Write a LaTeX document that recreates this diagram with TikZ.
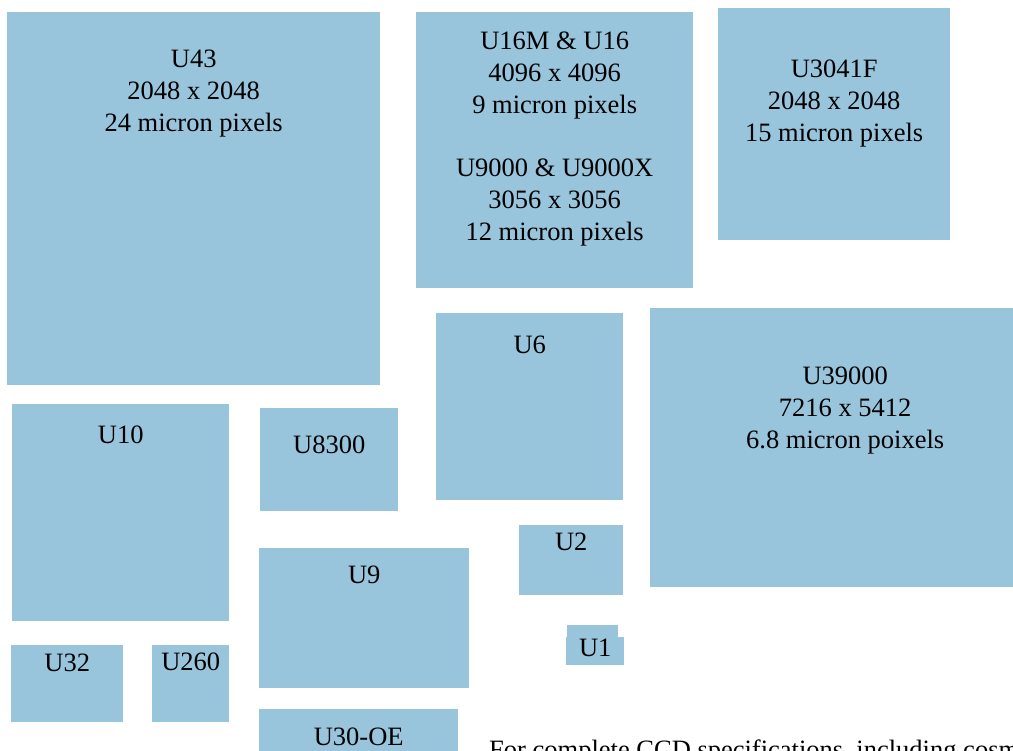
\documentclass[tikz,border=0pt]{standalone}
\usepackage{fontspec}
\setmainfont{Liberation Serif}
\usetikzlibrary{positioning}
\definecolor{chipblue}{RGB}{152,196,220}

\begin{document}
\begin{tikzpicture}[x=1pt, y=-1pt,
  chip/.style={fill=chipblue, inner sep=0pt, anchor=north west},
  lbl/.style={font=\fontsize{26.5}{32}\selectfont, align=center, inner sep=0pt}]
\useasboundingbox (0,0) rectangle (1013,751);
\clip (0,0) rectangle (1013,751);
% sensor outlines, to scale
\node[chip, minimum width=373pt, minimum height=373pt] (u43) at (7,12) {};
\node[chip, minimum width=277pt, minimum height=276pt] (u16) at (416,12) {};
\node[chip, minimum width=232pt, minimum height=232pt] (u3041) at (718,8) {};
\node[chip, minimum width=187pt, minimum height=187pt] (u6) at (436,313) {};
\node[chip, minimum width=390pt, minimum height=279pt] (u39000) at (650,308) {};
\node[chip, minimum width=217pt, minimum height=217pt] (u10) at (12,404) {};
\node[chip, minimum width=138pt, minimum height=103pt] (u8300) at (260,408) {};
\node[chip, minimum width=210pt, minimum height=140pt] (u9) at (259,548) {};
\node[chip, minimum width=104pt, minimum height=70pt] (u2) at (519,525) {};
\node[chip, minimum width=51pt, minimum height=12pt] (u1top) at (567,625) {};
\node[chip, minimum width=58pt, minimum height=28pt] (u1) at (566,637) {};
\node[chip, minimum width=112pt, minimum height=77pt] (u32) at (11,645) {};
\node[chip, minimum width=77pt, minimum height=77pt] (u260) at (152,645) {};
\node[chip, minimum width=199pt, minimum height=70pt] (u30) at (259,709) {};
% names
\node[lbl, below=38pt of u43.north] (u43l) {U43\\2048 x 2048\\24 micron pixels};
\node[lbl, below=20pt of u16.north] (u16l) {U16M \& U16\\4096 x 4096\\9 micron pixels\\[31pt]U9000 \& U9000X\\3056 x 3056\\12 micron pixels};
\node[lbl, below=52pt of u3041.north] (u3041l) {U3041F\\2048 x 2048\\15 micron pixels};
\node[lbl, below=23pt of u6.north] (u6l) {U6};
\node[lbl, below=59pt of u39000.north] (u39000l) {U39000\\7216 x 5412\\6.8 micron poixels};
\node[lbl, below=22pt of u10.north] (u10l) {U10};
\node[lbl, below=28pt of u8300.north] (u8300l) {U8300};
\node[lbl, below=18pt of u9.north] (u9l) {U9};
\node[lbl, below=8pt of u2.north] (u2l) {U2};
\node[lbl, below=2pt of u1.north] (u1l) {U1};
\node[lbl, below=9pt of u32.north] (u32l) {U32};
\node[lbl, below=8pt of u260.north] (u260l) {U260};
\node[lbl, below=19pt of u30.north] (u30l) {U30-OE};
\node[lbl, anchor=base west] (note) at (489,758) {For complete CCD specifications, including cosm};
\end{tikzpicture}
\end{document}
